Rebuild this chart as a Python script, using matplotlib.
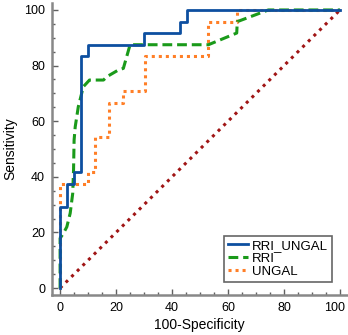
import matplotlib
matplotlib.use("Agg")
import matplotlib.pyplot as plt
import matplotlib.transforms as mtransforms

plt.rcParams["font.family"] = ["Liberation Sans", "DejaVu Sans"]

# ROC curves: (100-Specificity, Sensitivity)
rri_ungal_x = [0, 0, 2.4, 2.4, 4.9, 4.9, 7.3, 7.3, 9.8, 9.8, 30, 30, 43, 43, 45.5, 45.5, 100]
rri_ungal_y = [0, 29.2, 29.2, 37.5, 37.5, 41.7, 41.7, 83.3, 83.3, 87.5, 87.5, 91.7, 91.7, 95.8, 95.8, 100, 100]

rri_x = [0, 0, 1.2, 2.4, 3.6, 4.5, 4.8, 5.0, 5.4, 6.5, 8.3, 10.5, 15.5, 16.7, 20.8, 22.6, 25, 53, 63.1, 63.3, 74.4, 100]
rri_y = [0, 17.9, 19.7, 22, 26.9, 34, 42.4, 53.2, 58, 65.2, 72.4, 74.8, 74.8, 76, 78.4, 79, 87.5, 87.5, 91.7, 95.8, 100, 100]

ungal_x = [0, 0, 9.9, 9.9, 12.3, 12.3, 17.5, 17.5, 22.6, 22.6, 30.4, 30.4, 53, 53, 63.3, 63.3, 100]
ungal_y = [0, 37.5, 37.5, 41.7, 41.7, 54.2, 54.2, 66.7, 66.7, 70.8, 70.8, 83.3, 83.3, 95.8, 95.8, 100, 100]

ticks = [0, 20, 40, 60, 80, 100]

fig = plt.figure(figsize=(3.48, 3.35), dpi=100)
ax = fig.add_axes([0.1494, 0.1194, 0.8477, 0.8716])

ax.plot([0, 100], [0, 100], color="#a01515", linestyle=(0, (1, 1.6)), linewidth=2.2,
        clip_on=False, zorder=1)
ax.plot(ungal_x, ungal_y, color="#ff7f27", linestyle=(0, (1, 1.3)), linewidth=2.2,
        label="UNGAL", clip_on=False, zorder=2)
ax.plot(rri_x, rri_y, color="#1a9a1a", linestyle=(0, (3.2, 1.6)), linewidth=2.2,
        label="RRI", clip_on=False, zorder=3)
ax.plot(rri_ungal_x, rri_ungal_y, color="#0d4fa0", linewidth=2.0,
        label="RRI_UNGAL", clip_on=False, zorder=4)

ax.set_xlim(-2.9, 102.5)
ax.set_ylim(-2.5, 102.5)
ax.set_xticks(ticks)
ax.set_yticks(ticks)
ax.set_xticks(range(0, 101, 5), minor=True)
ax.set_yticks(range(0, 101, 5), minor=True)

for side in ["top", "right"]:
    ax.spines[side].set_visible(False)
for side in ["left", "bottom"]:
    ax.spines[side].set_color("#888888")
    ax.spines[side].set_linewidth(1.8)

ax.tick_params(which="major", direction="in", length=4, width=1, color="#606060",
               labelsize=9, pad=5)
ax.tick_params(which="minor", direction="in", length=2.5, width=1, color="#606060")

# last x label sits at the figure edge, nudge it left a little
last = ax.get_xticklabels()[-1]
last.set_transform(last.get_transform() +
                   mtransforms.ScaledTranslation(-4 / 72, 0, fig.dpi_scale_trans))

ax.set_xlabel("100-Specificity", fontsize=10, labelpad=3)
ax.set_ylabel("Sensitivity", fontsize=10, labelpad=5)

handles, labels = ax.get_legend_handles_labels()
leg = ax.legend(handles[::-1], labels[::-1], loc="lower right",
                bbox_to_anchor=(0.949, 0.045), fontsize=9.5, frameon=True,
                fancybox=False, handlelength=1.5, handletextpad=0.3,
                labelspacing=0.05, borderpad=0.3, borderaxespad=0)
leg.get_frame().set_edgecolor("#404040")
leg.get_frame().set_linewidth(1.2)

fig.savefig("out.png", dpi=100)
